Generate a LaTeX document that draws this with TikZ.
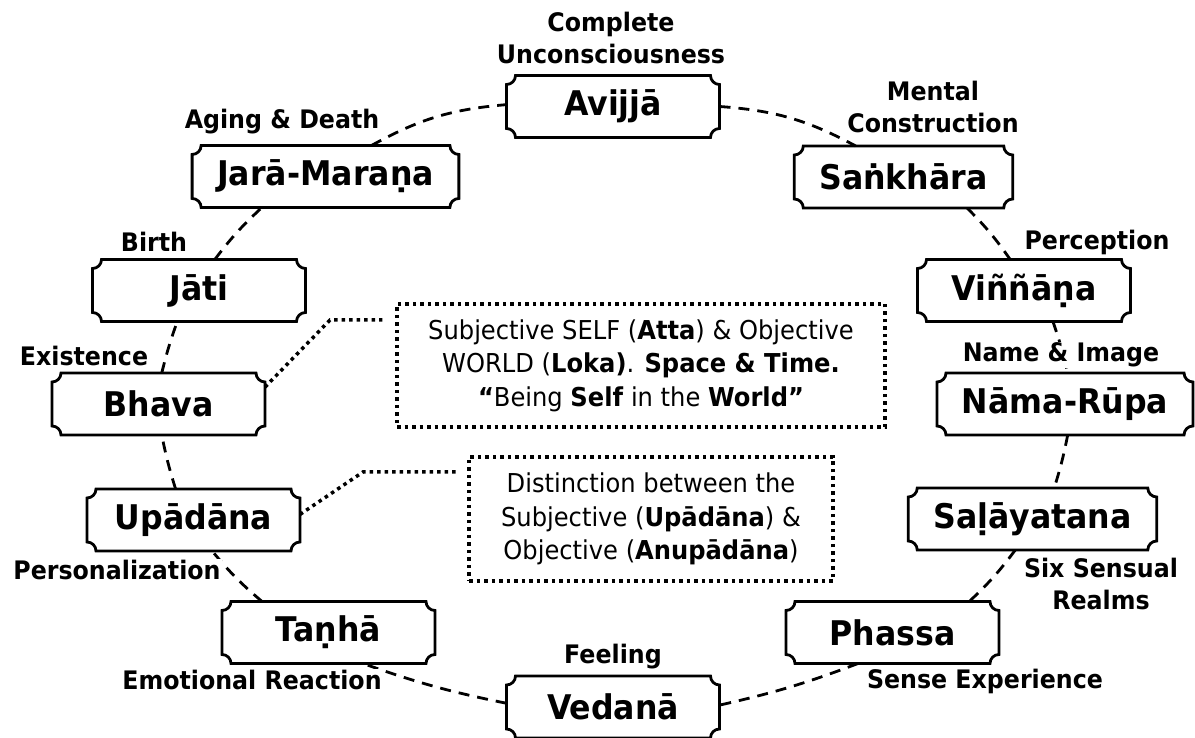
\documentclass[tikz,border=0pt]{standalone}
\usepackage{fontspec}
\setmainfont[FakeStretch=0.93]{DejaVu Sans}
\usepackage{tikz}
\usetikzlibrary{calc}
\tikzstyle{conn}=[dash pattern=on 11pt off 8pt, line width=2.8pt]
\tikzstyle{dotconn}=[dash pattern=on 3.5pt off 4pt, line width=3.5pt]

\begin{document}
\begin{tikzpicture}[x=1pt,y=1pt,
          nidana/.style={rectangle,fill=white,outer sep=0pt,inner xsep=25pt,minimum width=213pt,
            minimum height=62pt,font=\fontsize{34}{40}\selectfont\bfseries},
          meaning/.style={fill=white,inner sep=1pt,align=center,font=\fontsize{25.5}{32}\selectfont\bfseries},
          remark/.style={draw=black,dotconn,fill=white,align=center,font=\fontsize{26}{33.5}\selectfont}]
        \useasboundingbox (0,0) rectangle (1195,738);
        % the twelve links
        \node [nidana] (av) at (613,631.5) {Avijjā};
        \node [nidana] (sa) at (903.5,561)  {Saṅkhāra};
        \node [nidana] (vi) at (1024,447.5) {Viññāṇa};
        \node [nidana] (nr) at (1065,334)   {Nāma-Rūpa};
        \node [nidana] (sl) at (1032.5,219) {Saḷāyatana};
        \node [nidana] (ph) at (892.5,105.5) {Phassa};
        \node [nidana] (ve) at (613,31)     {Vedanā};
        \node [nidana] (ta) at (328.5,105.5) {Taṇhā};
        \node [nidana] (up) at (193.5,218)  {Upādāna};
        \node [nidana] (bh) at (158.5,334)  {Bhava};
        \node [nidana] (ja) at (199,447.5)  {Jāti};
        \node [nidana] (jm) at (325.5,561.5) {Jarā-Maraṇa};
        % notes in the middle
        \node [remark,minimum width=488pt,minimum height=123pt] (self) at (641,372.5)
          {Subjective SELF (\textbf{Atta}) \& Objective\\WORLD (\textbf{Loka)}. \textbf{Space \& Time.}\\\textbf{“}Being \textbf{Self} in the \textbf{World”}};
        \node [remark,minimum width=364pt,minimum height=124pt] (dist) at (651,219)
          {Distinction between the\\Subjective (\textbf{Upādāna}) \&\\Objective (\textbf{Anupādāna})};
        \foreach \n in {av,sa,vi,nr,sl,ph,ve,ta,up,bh,ja,jm}
          \draw [line width=2.8pt] ($(\n.north west)+(9pt,0pt)$) -- ($(\n.north east)+(-9pt,0pt)$)
            arc [start angle=180,end angle=270,radius=9pt] -- ($(\n.south east)+(0pt,9pt)$)
            arc [start angle=90,end angle=180,radius=9pt] -- ($(\n.south west)+(9pt,0pt)$)
            arc [start angle=0,end angle=90,radius=9pt] -- ($(\n.north west)+(0pt,-9pt)$)
            arc [start angle=270,end angle=360,radius=9pt] -- cycle;
        \path[conn]
        (av.east) edge [bend left=12] (sa.147)
        (sa.334)  edge [bend left=5]  (vi.114)
        (vi.313)  edge [bend left=3]  (nr.85)
        (nr.275)  edge [bend left=3]  (sl.55)
        (sl.241)  edge [bend left=5]  (ph.22)
        (ph.222)  edge [bend left=4]  (ve.1)
        (ve.178)  edge [bend left=4]  (ta.318)
        (ta.155)  edge [bend left=5]  (up.301)
        (up.120)  edge [bend left=3]  (bh.276)
        (bh.84)   edge [bend left=3]  (ja.235)
        (ja.63)   edge [bend left=5]  (jm.206)
        (jm.34)   edge [bend left=12] (av.179);
        \coordinate (bendself) at (330,418);
        \coordinate (benddist) at (363,266);
        \draw[dotconn,shorten >=13pt] (bh.9) -- (bendself) -- (bendself -| self.west);
        \draw[dotconn,shorten >=9pt]  (up.3) -- (benddist) -- (benddist -| dist.west);
        % meanings
        \node [meaning] (lav) at (611,700)  {Complete\\Unconsciousness};
        \node [meaning] (lsa) at (933,631)  {Mental\\Construction};
        \node [meaning] (lvi) at (1097,496) {Perception};
        \node [meaning] (lnr) at (1061,383) {Name \& Image};
        \node [meaning] (lsl) at (1101,154) {Six Sensual\\Realms};
        \node [meaning] (lph) at (985,57)   {Sense Experience};
        \node [meaning] (lve) at (613,81)   {Feeling};
        \node [meaning] (lta) at (252,58)   {Emotional Reaction};
        \node [meaning] (lup) at (117,168)  {Personalization};
        \node [meaning] (lbh) at (84,382)   {Existence};
        \node [meaning] (lja) at (154,496)  {Birth};
        \node [meaning] (ljm) at (282,616)  {Aging \& Death};
      \end{tikzpicture}
\end{document}
